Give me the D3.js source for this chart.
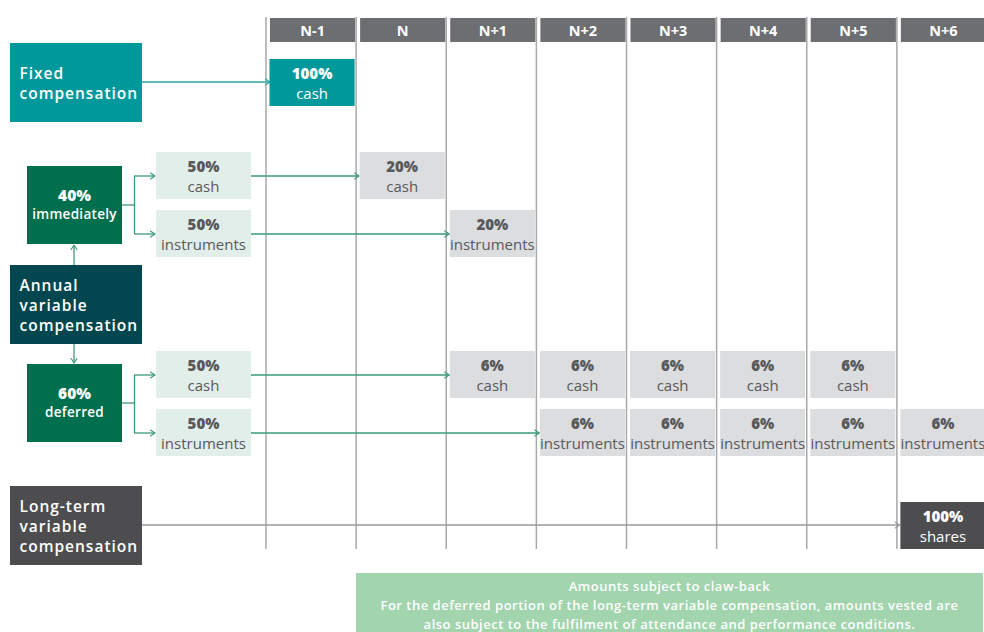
<!DOCTYPE html>
<html><head><meta charset="utf-8">
<script src="https://cdn.jsdelivr.net/npm/d3@7"></script>
<style>body{margin:0;background:#fff}svg{display:block}</style>
</head><body>
<script>
// ---- data ----
const periods = ["N-1","N","N+1","N+2","N+3","N+4","N+5","N+6"];
const fixedPayout = [{period:"N-1", pct:"100%", label:"cash"}];
const immediateCash = [{period:"N", pct:"20%", label:"cash"}];
const immediateInstr = [{period:"N+1", pct:"20%", label:"instruments"}];
const deferredCash = [{period:"N+1",pct:"6%",label:"cash"},{period:"N+2",pct:"6%",label:"cash"},{period:"N+3",pct:"6%",label:"cash"},{period:"N+4",pct:"6%",label:"cash"},{period:"N+5",pct:"6%",label:"cash"}];
const deferredInstr = [{period:"N+2",pct:"6%",label:"instruments"},{period:"N+3",pct:"6%",label:"instruments"},{period:"N+4",pct:"6%",label:"instruments"},{period:"N+5",pct:"6%",label:"instruments"},{period:"N+6",pct:"6%",label:"instruments"}];
const longTermPayout = [{period:"N+6", pct:"100%", label:"shares"}];
const splitLabels = [{pct:"50%",label:"cash"},{pct:"50%",label:"instruments"}];
const sourceLabels = {fixed:["Fixed","compensation"], annual:["Annual","variable","compensation"], longterm:["Long-term","variable","compensation"]};
const trancheLabels = [{pct:"40%",label:"immediately"},{pct:"60%",label:"deferred"}];
const footerLines = ["Amounts subject to claw-back","For the deferred portion of the long-term variable compensation, amounts vested are","also subject to the fulfilment of attendance and performance conditions."];

// ---- drawing ----
const W=984,H=632;
const svg=d3.select("body").append("svg").attr("width",W).attr("height",H);
const x=d3.scaleBand().domain(periods).range([266,987]).paddingInner(0);
const FONT="'Open Sans', sans-serif";
const C={teal:"#00989a",tealLine:"#27a6a6",dark:"#02474f",green:"#006f4e",gLine:"#3d9a7b",light:"#e2eeea",gray:"#dcdddf",text:"#58595b",head:"#6d6e71",lt:"#4d4d4f",vline:"#a9a9a9",footer:"#a2d4ae"};

const defs=svg.append("defs");
function marker(id,color){
  defs.append("marker").attr("id",id).attr("viewBox","0 0 6 8").attr("refX",5.5).attr("refY",4)
   .attr("markerWidth",6).attr("markerHeight",8).attr("markerUnits","userSpaceOnUse").attr("orient","auto")
   .append("path").attr("d","M0.5,0.8 L5.5,4 L0.5,7.2").attr("fill","none").attr("stroke",color).attr("stroke-width",1.1);
}
marker("mTeal",C.tealLine);marker("mGreen",C.gLine);marker("mGray","#9a9a9a");

// vertical period lines
svg.append("g").selectAll("line").data(periods).join("line")
 .attr("x1",d=>x(d)).attr("x2",d=>x(d)).attr("y1",17).attr("y2",549)
 .attr("stroke",C.vline).attr("stroke-width",1.5);

// headers
const hg=svg.append("g").selectAll("g").data(periods).join("g");
hg.append("rect").attr("x",d=>x(d)+4).attr("y",18).attr("width",x.bandwidth()-5).attr("height",24).attr("fill",C.head);
hg.append("text").attr("x",d=>x(d)+4+(x.bandwidth()-5)/2).attr("y",35.5).attr("text-anchor","middle")
 .attr("fill","#fff").attr("font-family",FONT).attr("font-weight",700).attr("font-size",14.5).text(d=>d);

// helper: two-line box
function pbox(g,x0,y0,w,h,fill,pct,label,tcol){
  g.append("rect").attr("x",x0).attr("y",y0).attr("width",w).attr("height",h).attr("fill",fill);
  g.append("text").attr("x",x0+w/2).attr("y",y0+20).attr("text-anchor","middle").attr("fill",tcol)
   .attr("font-family",FONT).attr("font-weight",800).attr("font-size",15).text(pct);
  g.append("text").attr("x",x0+w/2).attr("y",y0+40).attr("text-anchor","middle").attr("fill",tcol)
   .attr("font-family",FONT).attr("font-weight",400).attr("font-size",15).text(label);
}
function payouts(data,y0,fill,tcol){
  const g=svg.append("g");
  data.forEach(d=>pbox(g,x(d.period)+3.5,y0,x.bandwidth()-5,47,fill,d.pct,d.label,tcol));
}
function sourceBox(lines,y0,fill){
  const g=svg.append("g");
  g.append("rect").attr("x",10).attr("y",y0).attr("width",132).attr("height",79).attr("fill",fill);
  const n=lines.length, lh=20, start=y0+39.5-(n-1)*lh/2+6;
  lines.forEach((t,i)=>g.append("text").attr("x",19.5).attr("y",start+i*lh).attr("fill","#fff")
   .attr("font-family",FONT).attr("font-weight",600).attr("font-size",15.5).attr("letter-spacing",1).text(t));
}
function line(x1,y1,x2,y2,col,m){
  svg.append("line").attr("x1",x1).attr("y1",y1).attr("x2",x2).attr("y2",y2).attr("stroke",col).attr("stroke-width",1.3)
   .attr("marker-end",m?`url(#${m})`:null);
}

// Fixed
line(142,82,x("N-1")+4,82,C.tealLine,"mTeal");
sourceBox(sourceLabels.fixed,43,C.teal);
payouts(fixedPayout,59,C.teal,"#fff");

// Annual variable
line(74,265,74,245,C.gLine,"mGreen");
line(74,343,74,363,C.gLine,"mGreen");
sourceBox(sourceLabels.annual,265,C.dark);

const trancheY=[166,364], splitY=[[152,210],[351,409]];
const targets=[[immediateCash,immediateInstr],[deferredCash,deferredInstr]];
trancheLabels.forEach((t,i)=>{
  const g=svg.append("g"), y0=trancheY[i];
  g.append("rect").attr("x",27).attr("y",y0).attr("width",95).attr("height",78).attr("fill",C.green);
  g.append("text").attr("x",74.5).attr("y",y0+35).attr("text-anchor","middle").attr("fill","#fff")
   .attr("font-family",FONT).attr("font-weight",800).attr("font-size",15.5).text(t.pct);
  g.append("text").attr("x",74.5).attr("y",y0+53).attr("text-anchor","middle").attr("fill","#fff")
   .attr("font-family",FONT).attr("font-weight",600).attr("font-size",13.5).attr("letter-spacing",0.3).text(t.label);
  const cy=y0+39, ya=splitY[i][0]+24, yb=splitY[i][1]+24;
  line(122,cy,134.5,cy,C.gLine);
  line(134.5,ya,134.5,yb,C.gLine);
  line(134,ya,155,ya,C.gLine,"mGreen");
  line(134,yb,155,yb,C.gLine,"mGreen");
  splitLabels.forEach((s,j)=>{
    const sy=splitY[i][j];
    const tgt=targets[i][j][0];
    line(250,sy+24,x(tgt.period)+3,sy+24,C.gLine,"mGreen");
    pbox(svg.append("g"),156,sy,95,47,C.light,s.pct,s.label,C.text);
  });
});
payouts(immediateCash,152,C.gray,C.text);
payouts(immediateInstr,210,C.gray,C.text);
payouts(deferredCash,351,C.gray,C.text);
payouts(deferredInstr,409,C.gray,C.text);

// Long-term
line(142,525,x("N+6")+3,525,"#9a9a9a","mGray");
sourceBox(sourceLabels.longterm,486,C.lt);
payouts(longTermPayout,502,C.lt,"#fff");

// footer
const fg=svg.append("g");
fg.append("rect").attr("x",356).attr("y",573).attr("width",627).attr("height",60).attr("fill",C.footer);
footerLines.forEach((t,i)=>fg.append("text").attr("x",669.5).attr("y",590.5+i*19).attr("text-anchor","middle")
 .attr("fill","#fff").attr("font-family",FONT).attr("font-weight",600).attr("font-size",13).attr("letter-spacing",0.5).text(t));
</script>
</body></html>
